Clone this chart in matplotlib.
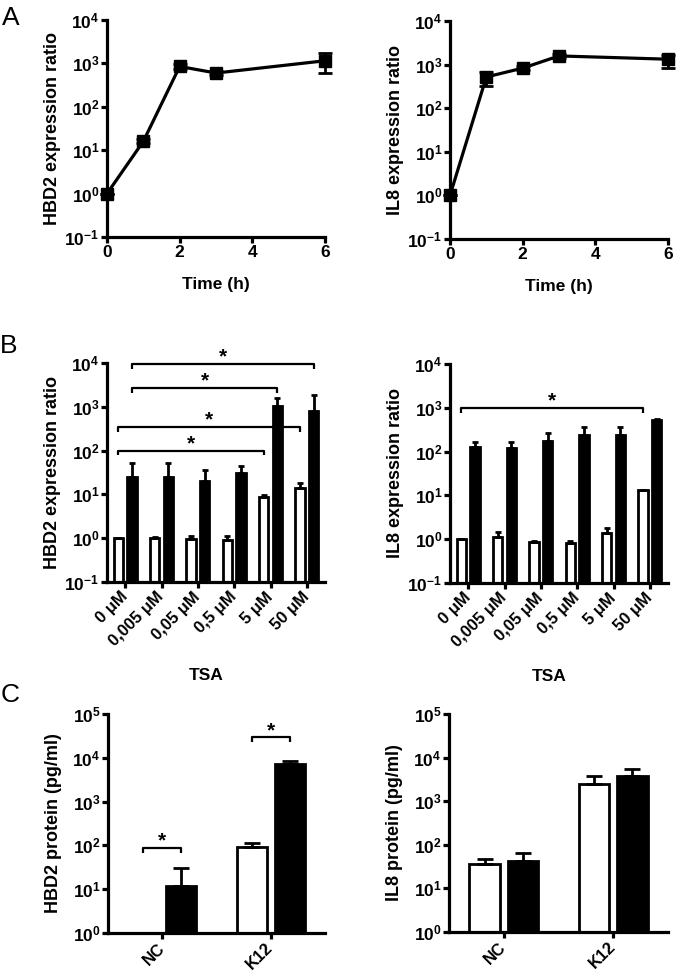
import numpy as np
import matplotlib
matplotlib.use("Agg")
import matplotlib.pyplot as plt
from matplotlib.ticker import LogFormatterSciNotation, NullLocator, FixedLocator

plt.rcParams['font.family'] = ['Liberation Sans', 'DejaVu Sans']
plt.rcParams['font.weight'] = 'bold'
plt.rcParams['mathtext.fontset'] = 'custom'
plt.rcParams['mathtext.rm'] = 'Liberation Sans:bold'
plt.rcParams['mathtext.bf'] = 'Liberation Sans:bold'
plt.rcParams['mathtext.it'] = 'Liberation Sans:bold:italic'
plt.rcParams['mathtext.default'] = 'rm'

# ---------------- data ----------------
time_h = [0, 1, 2, 3, 6]
hbd2_time_mean = [1.0, 16, 850, 600, 1150]
hbd2_time_lo = [1.0, 14.5, 760, 540, 610]
hbd2_time_hi = [1.0, 18, 950, 670, 1770]
il8_time_mean = [1.0, 520, 830, 1580, 1330]
il8_time_lo = [1.0, 320, 740, 1450, 820]
il8_time_hi = [1.0, 690, 930, 1720, 1700]

conc_labels = ['0 μM', '0,005 μM', '0,05 μM', '0,5 μM', '5 μM', '50 μM']
hbd2_ctrl = [1.0, 1.0, 0.96, 0.91, 8.6, 14.2]
hbd2_ctrl_top = [1.0, 1.08, 1.12, 1.14, 9.7, 17.9]
hbd2_stim = [25.3, 24.6, 20.2, 30.8, 1040, 800]
hbd2_stim_top = [53, 51, 36, 44, 1560, 1860]
il8_ctrl = [1.0, 1.1, 0.86, 0.82, 1.39, 13.0]
il8_ctrl_top = [1.0, 1.43, 0.89, 0.91, 1.76, 13.4]
il8_stim = [127, 121, 177, 239, 240, 535]
il8_stim_top = [162, 165, 260, 370, 360, 560]

# brackets: (group1, side1, group2, side2, y)  side: 0=white, 1=black
hbd2_brackets = [(0, 1, 5, 1, 9500), (0, 1, 4, 1, 2730),
                 (0, 0, 5, 0, 351), (0, 0, 4, 0, 100)]
il8_brackets = [(0, 0, 5, 0, 990)]

prot_groups = ['NC', 'K12']
hbd2_prot_ctrl = [np.nan, 93]
hbd2_prot_ctrl_top = [np.nan, 115]
hbd2_prot_stim = [11.8, 7100]
hbd2_prot_stim_top = [31, 8590]
il8_prot_ctrl = [35.7, 2480]
il8_prot_ctrl_top = [46.5, 3850]
il8_prot_stim = [42.5, 3850]
il8_prot_stim_top = [66, 5480]
hbd2_prot_brackets = [(0, 0, 0, 1, 86), (1, 0, 1, 1, 29400)]
il8_prot_brackets = []

# ---------------- figure ----------------
W, H = 677, 975
fig = plt.figure(figsize=(W / 100, H / 100), dpi=100)

def add_ax(x0, x1, y0, y1):
    return fig.add_axes([x0 / W, 1 - y1 / H, (x1 - x0) / W, (y1 - y0) / H])

LW = 2.3
TICK_FS = 12.5
LABEL_FS = 13

def style(ax, ylo, yhi):
    ax.set_yscale('log')
    ax.set_ylim(ylo, yhi)
    decs = np.arange(np.log10(ylo), np.log10(yhi) + 0.5)
    ax.yaxis.set_major_locator(FixedLocator(10.0 ** decs))
    ax.yaxis.set_minor_locator(NullLocator())
    ax.yaxis.set_major_formatter(LogFormatterSciNotation())
    for s in ['top', 'right']:
        ax.spines[s].set_visible(False)
    for s in ['left', 'bottom']:
        ax.spines[s].set_linewidth(LW)
        ax.spines[s].set_capstyle('projecting')
    ax.tick_params(axis='both', which='major', direction='out', length=4,
                   width=LW, labelsize=TICK_FS, pad=1.5)
    ax.patch.set_visible(False)

def set_ylabel(ax, text, xpos):
    ax.set_ylabel(text, fontsize=LABEL_FS, fontweight='bold')
    ax.yaxis.set_label_coords(xpos, 0.5)
    ax.yaxis.label.set_verticalalignment('center')

# ---- Panel A ----
def time_panel(ax, mean, lo, hi, ylabel):
    style(ax, 0.1, 1e4)
    m = np.array(mean); l = np.array(lo); h = np.array(hi)
    ax.errorbar(time_h, m, yerr=[m - l, h - m], fmt='none', ecolor='k',
                elinewidth=2, capsize=5, capthick=2, clip_on=False, zorder=3)
    ax.plot(time_h, m, '-s', color='k', lw=LW, markersize=8, clip_on=False, zorder=4)
    ax.set_xlim(0, 6)
    ax.set_xticks([0, 2, 4, 6])
    ax.set_xlabel('Time (h)', fontsize=12.5, fontweight='bold')
    ax.xaxis.set_label_coords(0.5, -0.22)
    ax.xaxis.label.set_verticalalignment('center')
    set_ylabel(ax, ylabel, -0.25)

axA1 = add_ax(107, 325, 20, 237)
time_panel(axA1, hbd2_time_mean, hbd2_time_lo, hbd2_time_hi, 'HBD2 expression ratio')
axA2 = add_ax(450, 668, 21, 239)
time_panel(axA2, il8_time_mean, il8_time_lo, il8_time_hi, 'IL8 expression ratio')

# ---- bar helper ----
def bar_panel(ax, ctrl, ctrl_top, stim, stim_top, brackets, ylo, yhi,
              offset, width, capsize, labels, ylabel):
    style(ax, ylo, yhi)
    n = len(labels)
    x = np.arange(n)
    for vals, tops, off, col in [(ctrl, ctrl_top, -offset, 'white'),
                                 (stim, stim_top, offset, 'black')]:
        v = np.array(vals, dtype=float); t = np.array(tops, dtype=float)
        ok = ~np.isnan(v)
        xs = x[ok] + off
        ax.bar(xs, v[ok] - ylo, bottom=ylo, width=width, color=col,
               edgecolor='black', linewidth=2, zorder=2)
        ax.errorbar(xs, v[ok], yerr=[np.zeros(ok.sum()), t[ok] - v[ok]],
                    fmt='none', ecolor='k', elinewidth=2, capsize=capsize,
                    capthick=2, zorder=3)
    drop = 10 ** -0.11
    for g1, s1, g2, s2, y in brackets:
        x1 = g1 + (offset if s1 else -offset)
        x2 = g2 + (offset if s2 else -offset)
        ax.plot([x1, x1, x2, x2], [y * drop, y, y, y * drop], color='k',
                lw=1.6, solid_capstyle='butt', zorder=4, clip_on=False)
        ax.annotate('*', xy=((x1 + x2) / 2, y), xytext=(0, 1),
                    textcoords='offset points', ha='center', va='baseline',
                    fontsize=15, fontweight='bold', annotation_clip=False)
    ax.set_xlim(-0.5, n - 0.5)
    ax.set_xticks(x)
    ax.set_xticklabels(labels, rotation=45, ha='right', va='center',
                       rotation_mode='anchor', fontsize=12)
    ax.tick_params(axis='x', pad=5)
    set_ylabel(ax, ylabel, -0.25)

# ---- Panel B ----
axB1 = add_ax(107, 325, 363, 582)
bar_panel(axB1, hbd2_ctrl, hbd2_ctrl_top, hbd2_stim, hbd2_stim_top, hbd2_brackets,
          0.1, 1e4, 0.19, 0.26, 2.3, conc_labels, 'HBD2 expression ratio')
axB1.set_xlabel('TSA', fontsize=12.5, fontweight='bold')
axB1.xaxis.set_label_coords(0.455, -0.425)
axB1.xaxis.label.set_verticalalignment('center')

axB2 = add_ax(450, 668, 364, 583)
bar_panel(axB2, il8_ctrl, il8_ctrl_top, il8_stim, il8_stim_top, il8_brackets,
          0.1, 1e4, 0.19, 0.26, 2.3, conc_labels, 'IL8 expression ratio')
axB2.set_xlabel('TSA', fontsize=12.5, fontweight='bold')
axB2.xaxis.set_label_coords(0.455, -0.425)
axB2.xaxis.label.set_verticalalignment('center')

# ---- Panel C ----
axC1 = add_ax(108, 325, 714, 933)
bar_panel(axC1, hbd2_prot_ctrl, hbd2_prot_ctrl_top, hbd2_prot_stim, hbd2_prot_stim_top,
          hbd2_prot_brackets, 1, 1e5, 0.175, 0.28, 6, prot_groups, 'HBD2 protein (pg/ml)')
axC2 = add_ax(449, 668, 714, 932)
bar_panel(axC2, il8_prot_ctrl, il8_prot_ctrl_top, il8_prot_stim, il8_prot_stim_top,
          il8_prot_brackets, 1, 1e5, 0.175, 0.28, 6, prot_groups, 'IL8 protein (pg/ml)')

# panel letters
for letter, xp, yb in [('A', 2, 25), ('B', 0, 353), ('C', 1, 702)]:
    fig.text(xp / W, 1 - yb / H, letter, fontsize=19, fontweight='normal',
             ha='left', va='baseline')

fig.savefig('out.png', dpi=100, facecolor='white')
